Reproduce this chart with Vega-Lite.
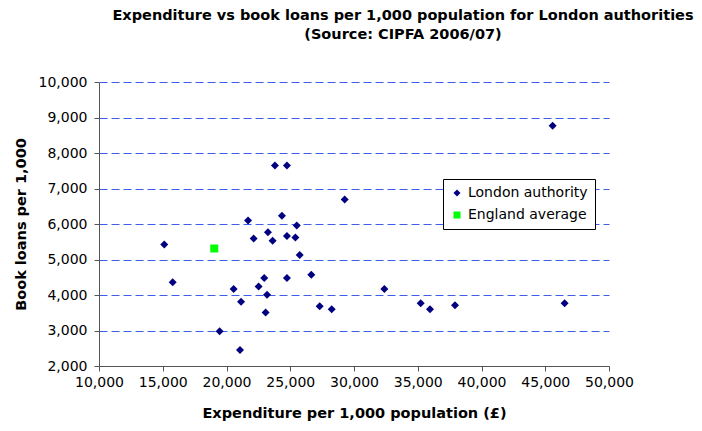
{
  "$schema": "https://vega.github.io/schema/vega-lite/v6.json",
  "width": 510,
  "height": 284,
  "autosize": {"type": "none"},
  "padding": {"left": 99, "top": 82, "right": 93, "bottom": 65},
  "background": "white",
  "title": {
    "text": ["Expenditure vs book loans per 1,000 population for London authorities", "(Source: CIPFA 2006/07)"],
    "anchor": "middle",
    "frame": "group",
    "dx": 49,
    "offset": 33,
    "font": "DejaVu Sans",
    "fontSize": 14.5,
    "fontWeight": "bold",
    "lineHeight": 19,
    "color": "#000000"
  },
  "data": {
    "values": [
      {"type": "London authority", "expenditure": 15120, "loans": 5420},
      {"type": "London authority", "expenditure": 15780, "loans": 4360},
      {"type": "England average", "expenditure": 19040, "loans": 5310},
      {"type": "London authority", "expenditure": 19460, "loans": 2980},
      {"type": "London authority", "expenditure": 20560, "loans": 4170},
      {"type": "London authority", "expenditure": 21140, "loans": 3810},
      {"type": "London authority", "expenditure": 21060, "loans": 2450},
      {"type": "London authority", "expenditure": 21690, "loans": 6100},
      {"type": "London authority", "expenditure": 22130, "loans": 5590},
      {"type": "London authority", "expenditure": 22520, "loans": 4240},
      {"type": "London authority", "expenditure": 22960, "loans": 4480},
      {"type": "London authority", "expenditure": 23070, "loans": 3510},
      {"type": "London authority", "expenditure": 23180, "loans": 4010},
      {"type": "London authority", "expenditure": 23250, "loans": 5770},
      {"type": "London authority", "expenditure": 23620, "loans": 5530},
      {"type": "London authority", "expenditure": 23800, "loans": 7650},
      {"type": "London authority", "expenditure": 24350, "loans": 6230},
      {"type": "London authority", "expenditure": 24740, "loans": 7650},
      {"type": "London authority", "expenditure": 24740, "loans": 5660},
      {"type": "London authority", "expenditure": 24740, "loans": 4480},
      {"type": "London authority", "expenditure": 25400, "loans": 5620},
      {"type": "London authority", "expenditure": 25510, "loans": 5960},
      {"type": "London authority", "expenditure": 25740, "loans": 5130},
      {"type": "London authority", "expenditure": 26650, "loans": 4570},
      {"type": "London authority", "expenditure": 27310, "loans": 3680},
      {"type": "London authority", "expenditure": 28250, "loans": 3600},
      {"type": "London authority", "expenditure": 29270, "loans": 6690},
      {"type": "London authority", "expenditure": 32380, "loans": 4170},
      {"type": "London authority", "expenditure": 35230, "loans": 3770},
      {"type": "London authority", "expenditure": 35960, "loans": 3600},
      {"type": "London authority", "expenditure": 37920, "loans": 3710},
      {"type": "London authority", "expenditure": 45580, "loans": 8770},
      {"type": "London authority", "expenditure": 46520, "loans": 3770}
    ]
  },
  "mark": {"type": "point", "filled": true, "opacity": 1},
  "encoding": {
    "x": {
      "field": "expenditure",
      "type": "quantitative",
      "scale": {"domain": [10000, 50000], "nice": false, "zero": false},
      "axis": {
        "title": "Expenditure per 1,000 population (£)",
        "values": [10000, 15000, 20000, 25000, 30000, 35000, 40000, 45000, 50000],
        "format": ",d",
        "grid": false,
        "labelOverlap": false,
        "labelBound": false,
        "labelFlush": false,
        "domainColor": "#555555",
        "tickColor": "#555555",
        "tickSize": 5,
        "labelPadding": 4,
        "labelFont": "DejaVu Sans",
        "labelFontSize": 14,
        "labelColor": "#000000",
        "titleFont": "DejaVu Sans",
        "titleFontSize": 14.5,
        "titleFontWeight": "bold",
        "titleColor": "#000000",
        "titlePadding": 17
      }
    },
    "y": {
      "field": "loans",
      "type": "quantitative",
      "scale": {"domain": [2000, 10000], "nice": false, "zero": false},
      "axis": {
        "title": "Book loans per 1,000",
        "values": [2000, 3000, 4000, 5000, 6000, 7000, 8000, 9000, 10000],
        "format": ",d",
        "grid": true,
        "gridColor": "#3d5ee8",
        "gridDash": [8, 4],
        "gridWidth": 1,
        "labelOverlap": false,
        "domainColor": "#555555",
        "tickColor": "#555555",
        "tickSize": 5,
        "labelPadding": 7,
        "labelFont": "DejaVu Sans",
        "labelFontSize": 14,
        "labelColor": "#000000",
        "titleFont": "DejaVu Sans",
        "titleFontSize": 14.5,
        "titleFontWeight": "bold",
        "titleColor": "#000000",
        "titlePadding": 10
      }
    },
    "color": {
      "field": "type",
      "type": "nominal",
      "scale": {"domain": ["London authority", "England average"], "range": ["#000080", "#00ff00"]},
      "legend": {
        "title": null,
        "orient": "none",
        "legendX": 344,
        "legendY": 97,
        "strokeColor": "#000000",
        "fillColor": "#ffffff",
        "padding": 7,
        "labelFont": "DejaVu Sans",
        "labelFontSize": 14,
        "labelColor": "#000000",
        "rowPadding": 8,
        "symbolSize": 50
      }
    },
    "shape": {
      "field": "type",
      "type": "nominal",
      "scale": {"domain": ["London authority", "England average"], "range": ["diamond", "square"]}
    },
    "size": {"value": 64}
  },
  "config": {
    "view": {"stroke": null}
  }
}
